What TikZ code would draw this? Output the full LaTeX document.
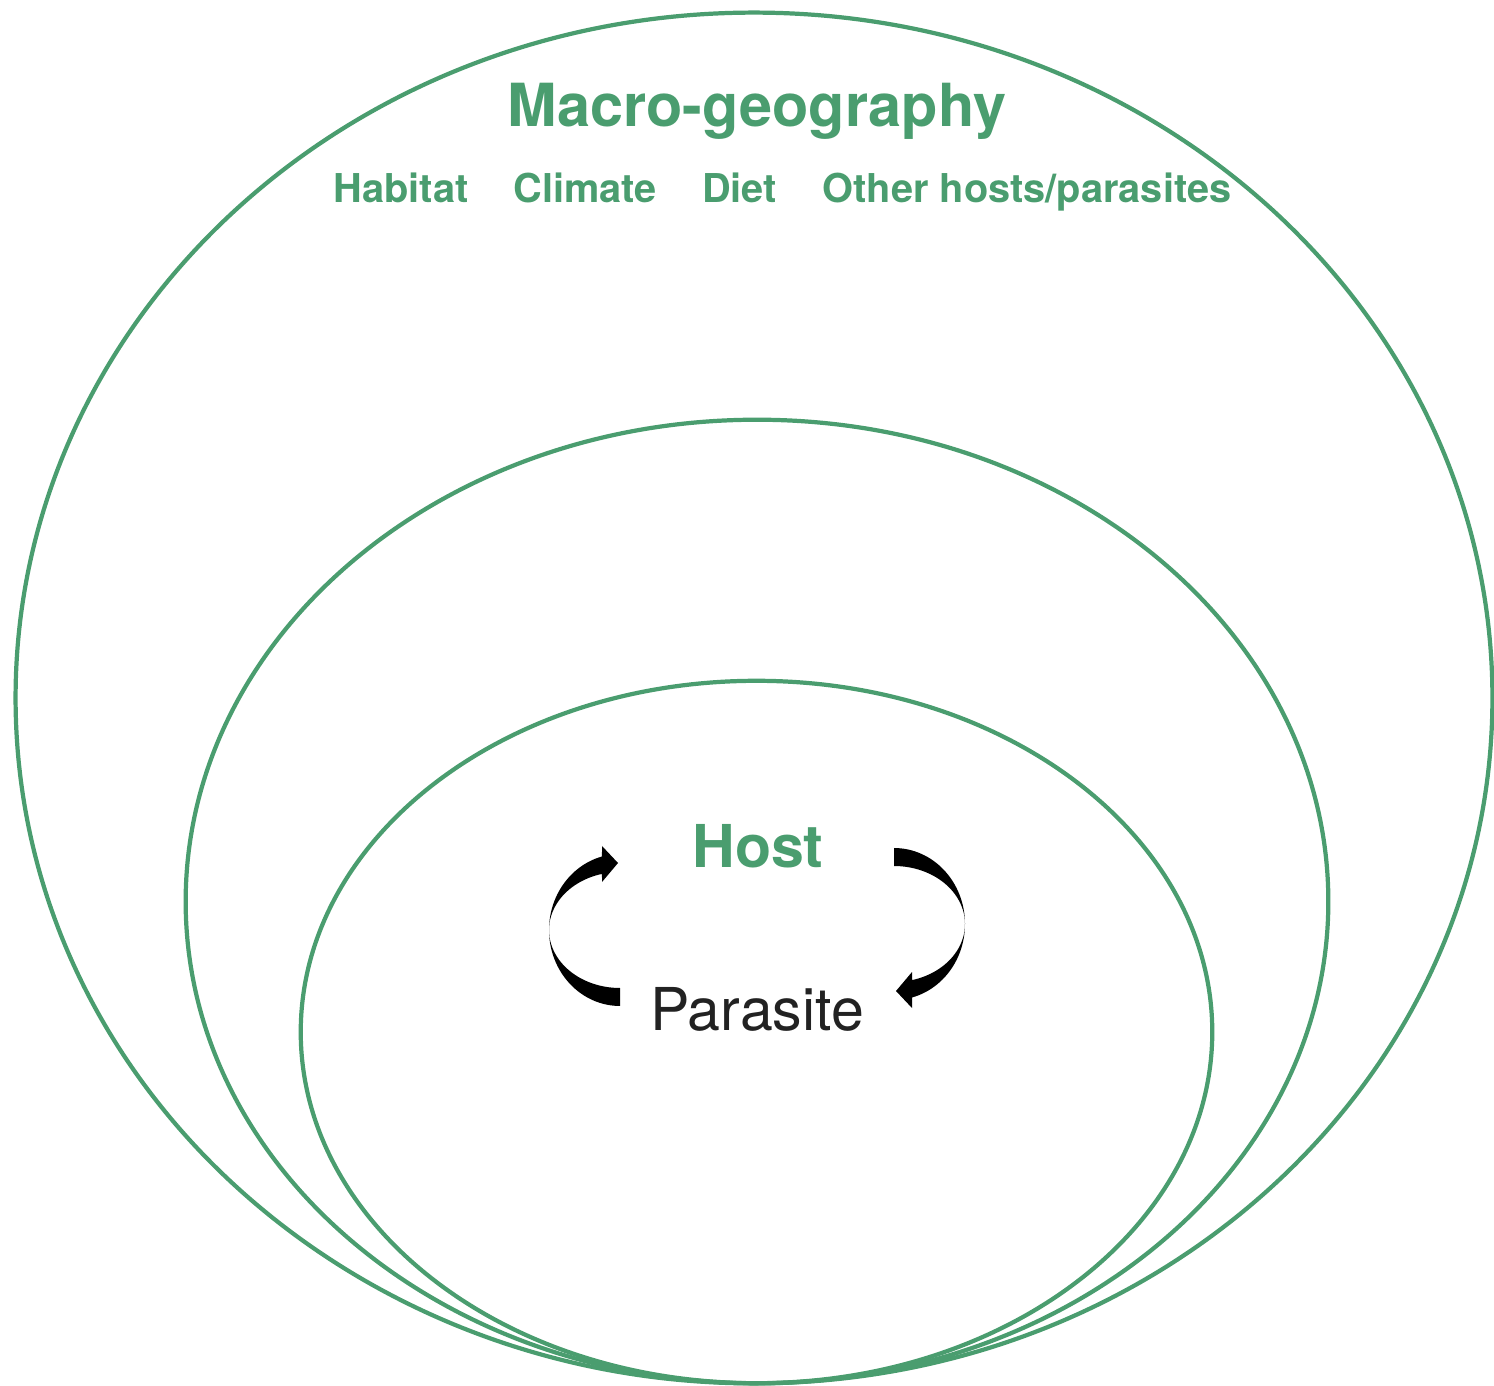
\documentclass[tikz,border=0pt]{standalone}
\usepackage{fontspec}
\setmainfont{TeX Gyre Heros}
\usetikzlibrary{shapes.geometric}
\definecolor{leaf}{RGB}{74,157,111}
\definecolor{ink}{RGB}{34,34,34}
\tikzset{
  ring/.style={ellipse, draw=leaf, line width=1.2pt, inner sep=0pt, outer sep=0pt},
  bigtitle/.style={text=leaf, font=\bfseries\fontsize{16.9}{20}\selectfont, anchor=base, inner sep=0pt},
  factor/.style={text=leaf, font=\bfseries\fontsize{11.3}{13}\selectfont, anchor=base, inner sep=0pt},
  player/.style={font=\fontsize{16.8}{20}\selectfont, anchor=base, inner sep=0pt},
  % tapered half-loop arrow, thin at its far side, with a head at its upper end
  looparrow/.pic={
    \fill[black]
      plot[domain=270:104.7, samples=60, variable=\t] ({-137+71*cos(\t)},{3-58*sin(\t)})
      -- (-155,-45) -- (-139,-64) -- (-155,-81)
      -- plot[domain=104.7:270, samples=60, variable=\t] ({-137+71*cos(\t)},{3-76*sin(\t)})
      -- cycle;
  }
}
\begin{document}
\begin{tikzpicture}[x=0.01cm, y=-0.01cm]
  \useasboundingbox (0,0) rectangle (1494,1386);

  % nested scales, all touching at the bottom
  \node[ring, minimum width=14.76cm, minimum height=13.70cm] (macro) at (754,698) {};
  \node[ring, minimum width=11.42cm, minimum height=9.63cm] (middle) at (757,901.5) {};
  \node[ring, minimum width=9.11cm, minimum height=7.02cm] (inner) at (756.5,1032) {};

  % outer scale labels
  \node[bigtitle] (title) at (757,127) {Macro-geography};
  \node[factor] (habitat) at (401,203) {Habitat};
  \node[factor] (climate) at (585,203) {Climate};
  \node[factor] (diet) at (739.5,203) {Diet};
  \node[factor] (others) at (1027,203) {Other hosts/parasites};

  % host--parasite interaction
  \node[player, text=leaf, font=\bfseries\fontsize{16.8}{20}\selectfont] (host) at (758,868) {Host};
  \node[player, text=ink] (parasite) at (757,1030) {Parasite};

  \coordinate (loop) at (757,927);
  \pic at (loop) {looparrow};
  \pic[rotate=180] at (loop) {looparrow};
\end{tikzpicture}
\end{document}
